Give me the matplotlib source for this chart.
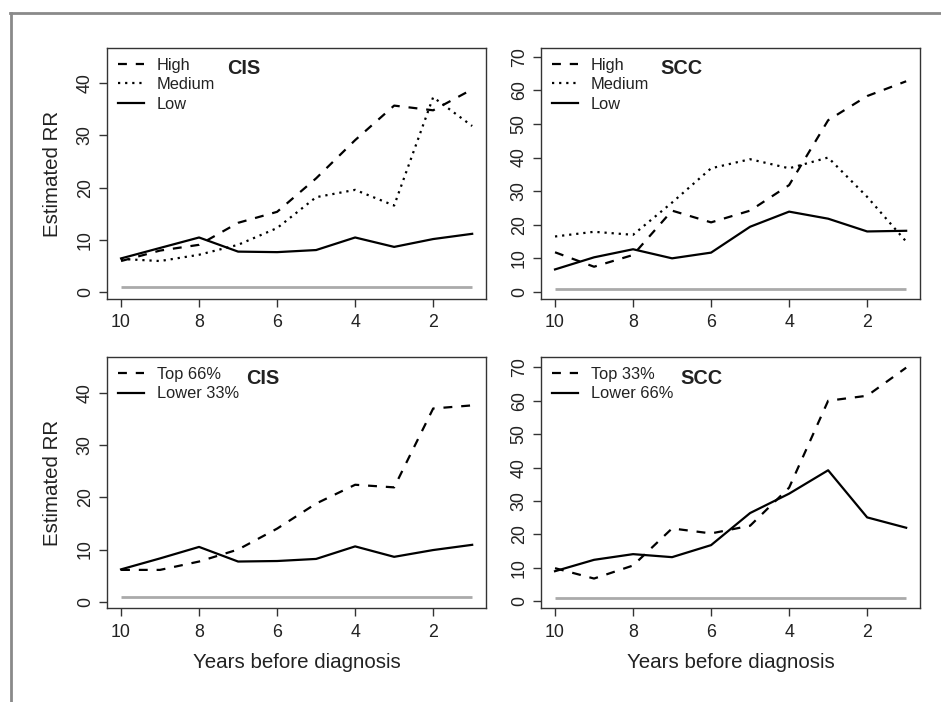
import matplotlib
matplotlib.use("Agg")
import matplotlib.pyplot as plt
from matplotlib.lines import Line2D

plt.rcParams['font.family'] = ['Liberation Sans', 'DejaVu Sans']

# years before diagnosis
years = [10, 9, 8, 7, 6, 5, 4, 3, 2, 1]

# CIS, three exposure groups
cis_high = [6.0, 8.0, 9.1, 13.3, 15.4, 21.8, 29.1, 35.7, 34.8, 38.8]
cis_medium = [6.4, 6.0, 7.2, 9.1, 12.3, 18.2, 19.6, 16.6, 37.3, 31.8]
cis_low = [6.5, 8.5, 10.5, 7.8, 7.7, 8.1, 10.5, 8.7, 10.2, 11.2]

# SCC, three exposure groups
scc_high = [11.8, 7.5, 11.0, 24.2, 20.7, 24.2, 31.8, 51.1, 58.3, 62.7]
scc_medium = [16.5, 17.9, 17.0, 26.6, 36.8, 39.5, 36.8, 40.0, 28.3, 15.0]
scc_low = [6.7, 10.3, 12.7, 10.0, 11.7, 19.4, 23.9, 21.8, 18.0, 18.2]

# two groups
cis_top66 = [6.1, 6.1, 7.7, 10.0, 14.0, 18.8, 22.4, 21.9, 37.0, 37.6]
cis_lower33 = [6.2, 8.3, 10.5, 7.7, 7.8, 8.2, 10.6, 8.6, 9.9, 10.9]
scc_top33 = [9.9, 6.8, 10.7, 21.8, 20.3, 22.6, 34.0, 60.0, 61.5, 69.9]
scc_lower66 = [9.0, 12.4, 14.1, 13.2, 16.8, 26.4, 32.2, 39.2, 25.1, 22.0]

reference = [1] * len(years)

x_ticks = [10, 8, 6, 4, 2]
cis_yticks = [0, 10, 20, 30, 40]
scc_yticks = [0, 10, 20, 30, 40, 50, 60, 70]

DARK = '#222222'
dashed = (0, (4, 4))
dotted = (0, (1, 2.2))

fig = plt.figure(figsize=(9.41, 7.02), dpi=100)

# outer frame (top and left edges only)
fig.add_artist(Line2D([10 / 941, 1], [1 - 13 / 702, 1 - 13 / 702],
                      transform=fig.transFigure, color='#8a8a8a', lw=2))
fig.add_artist(Line2D([11 / 941, 11 / 941], [1 - 13 / 702, 0],
                      transform=fig.transFigure, color='#8a8a8a', lw=2))

left1, left2, w = 0.1137, 0.5749, 0.4030
top_b, bot_b, h = 0.5741, 0.1335, 0.3575

panels = [
    (left1, top_b, 'CIS', [(cis_high, dashed, 'High'), (cis_medium, dotted, 'Medium'),
                           (cis_low, '-', 'Low')], cis_yticks, (-1.25, 46.7), (0.3615, 0.920), True, False),
    (left2, top_b, 'SCC', [(scc_high, dashed, 'High'), (scc_medium, dotted, 'Medium'),
                           (scc_low, '-', 'Low')], scc_yticks, (-2.1, 72.6), (0.371, 0.920), False, False),
    (left1, bot_b, 'CIS', [(cis_top66, dashed, 'Top 66%'), (cis_lower33, '-', 'Lower 33%')],
     cis_yticks, (-1.25, 46.8), (0.4116, 0.917), True, True),
    (left2, bot_b, 'SCC', [(scc_top33, dashed, 'Top 33%'), (scc_lower66, '-', 'Lower 66%')],
     scc_yticks, (-2.1, 73.0), (0.424, 0.917), False, True),
]

for left, bottom, title, series, yticks, ylim, tpos, show_ylab, show_xlab in panels:
    ax = fig.add_axes([left, bottom, w, h])
    ax.plot(years, reference, color='#aaaaaa', lw=2.0, solid_capstyle='butt')
    for vals, ls, lab in series:
        ax.plot(years, vals, color='black', lw=1.6, linestyle=ls, label=lab)
    ax.set_xlim(10.36, 0.64)
    ax.set_ylim(*ylim)
    ax.set_xticks(x_ticks)
    ax.set_yticks(yticks)
    ax.tick_params(direction='out', length=6, width=1, colors='#333333',
                   labelsize=12.8, labelcolor=DARK)
    ax.tick_params(axis='x', pad=5)
    ax.tick_params(axis='y', pad=3.5)
    for lbl in ax.get_yticklabels():
        lbl.set_rotation(90)
        lbl.set_va('center')
    for sp in ax.spines.values():
        sp.set_color('#333333')
        sp.set_linewidth(1.0)
    ax.text(tpos[0], tpos[1], title, transform=ax.transAxes, ha='center', va='center',
            fontsize=14.3, fontweight='bold', color=DARK)
    ax.legend(loc='upper left', bbox_to_anchor=(0.029, 0.962), frameon=False,
              fontsize=11.8, handlelength=1.6, handletextpad=0.78, labelspacing=0.28,
              borderpad=0, borderaxespad=0, labelcolor=DARK)
    if show_ylab:
        ax.set_ylabel('Estimated RR', fontsize=14.8, color=DARK, va='center')
        ax.yaxis.set_label_coords(-0.1425, 0.5)
    if show_xlab:
        ax.set_xlabel('Years before diagnosis', fontsize=14.8, color=DARK, va='center')
        ax.xaxis.set_label_coords(0.5, -0.2166)

fig.savefig('out.png', dpi=100)
